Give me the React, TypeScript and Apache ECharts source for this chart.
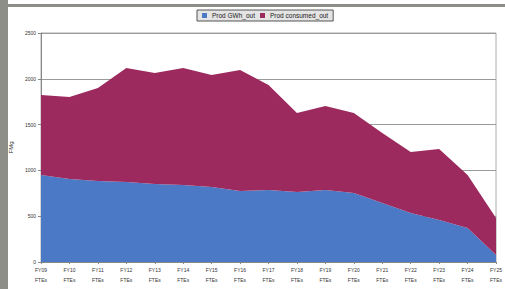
import React, { useEffect, useRef } from "react";
import * as echarts from "echarts";

const categories = ["FY09", "FY10", "FY11", "FY12", "FY13", "FY14", "FY15", "FY16", "FY17", "FY18", "FY19", "FY20", "FY21", "FY22", "FY23", "FY24", "FY25"];
const subLabel = "FTEs";
const seriesNames = ["Prod GWh_out", "Prod consumed_out"];
const blueValues = [950, 906, 884, 873, 851, 840, 819, 775, 786, 764, 786, 753, 644, 535, 458, 371, 76];
const redValues = [873, 895, 1016, 1245, 1212, 1278, 1222, 1321, 1146, 863, 917, 874, 764, 666, 776, 579, 404];
const yTicks = { min: 0, max: 2500, interval: 500 };
const yTitle = "FMg";

export default function App() {
  const ref = useRef<HTMLDivElement>(null);
  useEffect(() => {
    if (!ref.current) return;
    const chart = echarts.init(ref.current, null, { renderer: "svg" });
    chart.setOption({
      animation: false,
      backgroundColor: "#ffffff",
      graphic: [
        { type: "rect", left: 0, top: 0, shape: { width: 8, height: 289 }, style: { fill: "#8e8e88" } },
        { type: "rect", left: 8, top: 4, shape: { width: 497, height: 3 }, style: { fill: "#8e8e88" } },
      ],
      legend: {
        top: 10,
        left: 197,
        icon: "rect",
        itemWidth: 5,
        itemHeight: 5,
        itemGap: 5,
        padding: [2, 5],
        borderColor: "#555",
        borderWidth: 1,
        backgroundColor: "#e4e4e4",
        textStyle: { fontSize: 6.5, color: "#222", fontFamily: "Liberation Sans" },
        data: seriesNames,
      },
      grid: { left: 40, right: 7, top: 33, bottom: 27, show: true, borderColor: "#aaa", borderWidth: 1 },
      xAxis: {
        type: "category",
        boundaryGap: false,
        data: categories.map((c) => c + "\n" + subLabel),
        axisLine: { lineStyle: { color: "#888" } },
        axisTick: { show: true, length: 2, lineStyle: { color: "#888" } },
        axisLabel: { interval: 0, fontSize: 5, color: "#333", lineHeight: 10, margin: 3, fontFamily: "Liberation Sans" },
      },
      yAxis: {
        type: "value",
        min: yTicks.min,
        max: yTicks.max,
        interval: yTicks.interval,
        name: yTitle,
        nameLocation: "middle",
        nameGap: 26,
        nameTextStyle: { fontSize: 6, color: "#333", fontFamily: "Liberation Sans" },
        axisLine: { show: true, lineStyle: { color: "#888" } },
        axisTick: { show: true, length: 3, lineStyle: { color: "#888" } },
        axisLabel: { fontSize: 5, color: "#333", margin: 5, fontFamily: "Liberation Sans", formatter: (v: number) => String(v) },
        splitLine: { lineStyle: { color: "#9a9a9a", width: 1 } },
      },
      series: [
        {
          name: seriesNames[0],
          type: "line",
          stack: "total",
          data: blueValues,
          symbol: "none",
          lineStyle: { width: 0 },
          areaStyle: { color: "#4b79c6", opacity: 1 },
          itemStyle: { color: "#4b79c6" },
        },
        {
          name: seriesNames[1],
          type: "line",
          stack: "total",
          data: redValues,
          symbol: "none",
          lineStyle: { width: 0 },
          areaStyle: { color: "#9c2a5e", opacity: 1 },
          itemStyle: { color: "#9c2a5e" },
        },
      ],
    });
    return () => chart.dispose();
  }, []);
  return <div ref={ref} style={{ position: "absolute", left: 0, top: 0, width: 505, height: 289 }} />;
}
